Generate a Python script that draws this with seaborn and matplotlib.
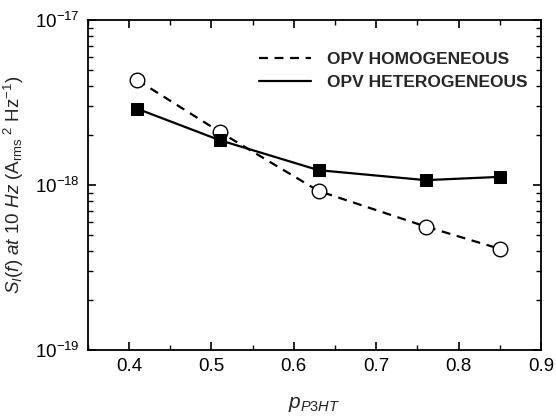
import matplotlib
matplotlib.use("Agg")
import matplotlib.pyplot as plt
import seaborn as sns
import pandas as pd
import numpy as np
from matplotlib.ticker import LogLocator, FixedLocator, MultipleLocator, NullFormatter, FixedFormatter
from matplotlib.lines import Line2D

p_p3ht = [0.41, 0.51, 0.63, 0.76, 0.85]
homogeneous = [4.33e-18, 2.1e-18, 9.2e-19, 5.6e-19, 4.1e-19]
heterogeneous = [2.9e-18, 1.87e-18, 1.23e-18, 1.07e-18, 1.12e-18]
y_ticks = [1e-19, 1e-18, 1e-17]
y_ticklabels = [r"$\mathregular{10^{-19}}$", r"$\mathregular{10^{-18}}$", r"$\mathregular{10^{-17}}$"]

sns.set_style("ticks")
plt.rcParams['font.family'] = ['Liberation Sans', 'DejaVu Sans']
plt.rcParams['mathtext.fontset'] = 'custom'
plt.rcParams['mathtext.rm'] = 'Liberation Sans'
plt.rcParams['mathtext.it'] = 'Liberation Sans:italic'

fig = plt.figure(figsize=(5.56, 4.19), dpi=100)
ax = fig.add_axes([0.158, 0.165, 0.815, 0.787])

df_hom = pd.DataFrame({"x": p_p3ht, "y": homogeneous})
df_het = pd.DataFrame({"x": p_p3ht, "y": heterogeneous})

sns.lineplot(data=df_hom, x="x", y="y", ax=ax, color="black", lw=1.6,
             linestyle=(0, (4, 3)), marker="o", markersize=10.5,
             markerfacecolor="white", markeredgecolor="black", markeredgewidth=1.0)
sns.lineplot(data=df_het, x="x", y="y", ax=ax, color="black", lw=1.6,
             linestyle="-", marker="s", markersize=9,
             markerfacecolor="black", markeredgecolor="black")

ax.set_yscale("log")
ax.set_xlim(0.35, 0.9)
ax.set_ylim(1e-19, 1e-17)
ax.xaxis.set_major_locator(MultipleLocator(0.1))
ax.xaxis.set_minor_locator(MultipleLocator(0.05))
ax.yaxis.set_major_locator(FixedLocator(y_ticks))
ax.yaxis.set_major_formatter(FixedFormatter(y_ticklabels))
ax.yaxis.set_minor_locator(LogLocator(base=10, subs=np.arange(2, 10), numticks=20))
ax.yaxis.set_minor_formatter(NullFormatter())

for s in ax.spines.values():
    s.set_linewidth(1.3)
    s.set_color("black")
ax.tick_params(which="both", direction="in", top=True, right=True, colors="black",
               labelsize=13.5)
ax.tick_params(which="major", length=6, width=1.2, pad=6)
ax.tick_params(which="minor", length=3.5, width=1.0)

ax.set_xlabel(r"$p_{P3HT}$", fontsize=15, labelpad=14)
ax.set_ylabel(r"$S_I(f)$ $at$ $10$ $Hz$ (A$_{\mathrm{rms}}$$^{\,\,2}$ Hz$^{-1}$)", fontsize=13.5, labelpad=6)

handles = [Line2D([0], [0], color="black", lw=1.6, linestyle=(0, (4, 3))),
           Line2D([0], [0], color="black", lw=1.6, linestyle="-")]
leg = ax.legend(handles, ["OPV HOMOGENEOUS", "OPV HETEROGENEOUS"], loc="upper right",
                frameon=False, prop={"weight": "bold", "size": 12.5},
                handlelength=3.0, handletextpad=0.9, labelspacing=0.5,
                bbox_to_anchor=(0.985, 0.926), borderaxespad=0)

fig.savefig("out.png", dpi=100)
